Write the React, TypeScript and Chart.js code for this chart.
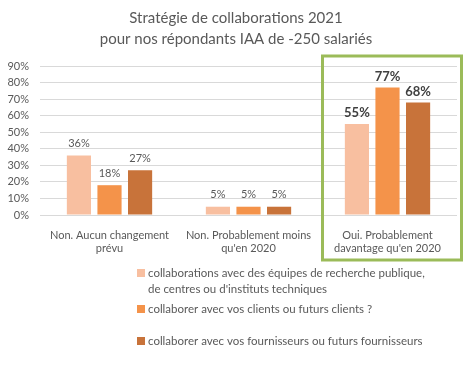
import React, { useEffect, useRef } from "react";
import { Chart, registerables } from "chart.js";

Chart.register(...registerables);

const titleLines = ["Stratégie de collaborations 2021", "pour nos répondants IAA de -250 salariés"];
const categories = [
  ["Non. Aucun changement", "prévu"],
  ["Non. Probablement moins", "qu'en 2020"],
  ["Oui. Probablement", "davantage qu'en 2020"],
];
const seriesNames = [
  ["collaborations avec des équipes de recherche publique,", "de centres ou d'instituts techniques"],
  ["collaborer avec vos clients ou futurs clients ?"],
  ["collaborer avec vos fournisseurs ou futurs fournisseurs"],
];
const recherche = [36, 5, 55];
const clients = [18, 5, 77];
const fournisseurs = [27, 5, 68];
const colors = ["#F8BFA0", "#F4934A", "#C8733A"];
const highlightIndex = 2;

const FONT = "Lato, 'Open Sans', sans-serif";
const GRAY = "#595959";

const decorPlugin = {
  id: "decor",
  afterDatasetsDraw(chart: any) {
    const ctx = chart.ctx;
    const xScale = chart.scales.x;
    ctx.save();
    // title
    ctx.fillStyle = GRAY;
    ctx.font = `15px ${FONT}`;
    ctx.textAlign = "center";
    ctx.textBaseline = "middle";
    ctx.fillText(titleLines[0], 236, 18);
    ctx.fillText(titleLines[1], 236, 39);

    // data labels
    chart.data.datasets.forEach((ds: any, di: number) => {
      const meta = chart.getDatasetMeta(di);
      meta.data.forEach((bar: any, i: number) => {
        const hi = i === highlightIndex;
        ctx.font = hi ? `bold 13px ${FONT}` : `11px ${FONT}`;
        ctx.fillStyle = hi ? "#404040" : GRAY;
        ctx.textAlign = "center";
        ctx.textBaseline = "middle";
        ctx.fillText(ds.data[i] + "%", bar.x, bar.y - (hi ? 11 : 12));
      });
    });

    // highlight box
    const cx = xScale.getPixelForValue(highlightIndex);
    ctx.strokeStyle = "#9BBB59";
    ctx.lineWidth = 3;
    ctx.strokeRect(cx - 65, 56, 139, 204);

    // legend
    ctx.textAlign = "left";
    ctx.textBaseline = "middle";
    ctx.font = `11.5px ${FONT}`;
    const rows = [273, 309, 341];
    seriesNames.forEach((lines, k) => {
      const y = rows[k];
      ctx.fillStyle = colors[k];
      ctx.fillRect(137, y - 4, 8, 8);
      ctx.fillStyle = GRAY;
      lines.forEach((t, j) => ctx.fillText(t, 148, y + j * 16));
    });
    ctx.restore();
  },
};

export default function App() {
  const ref = useRef<HTMLCanvasElement>(null);
  useEffect(() => {
    if (!ref.current) return;
    const chart = new Chart(ref.current, {
      type: "bar",
      data: {
        labels: categories,
        datasets: [
          { label: seriesNames[0].join(" "), data: recherche, backgroundColor: colors[0] },
          { label: seriesNames[1].join(" "), data: clients, backgroundColor: colors[1] },
          { label: seriesNames[2].join(" "), data: fournisseurs, backgroundColor: colors[2] },
        ],
      },
      options: {
        responsive: false,
        animation: false,
        layout: { padding: { top: 66, left: 0, right: 16, bottom: 112 } },
        plugins: { legend: { display: false }, title: { display: false }, tooltip: { enabled: false } },
        datasets: { bar: { categoryPercentage: 0.66, barPercentage: 0.79 } },
        scales: {
          x: {
            grid: { display: false },
            border: { display: false },
            ticks: { color: GRAY, font: { family: FONT, size: 11 }, padding: 6, maxRotation: 0 },
            afterFit: (s: any) => { s.height = 40; },
          },
          y: {
            min: 0,
            max: 90,
            ticks: { stepSize: 10, color: GRAY, font: { family: FONT, size: 11 }, padding: 11, callback: (v: any) => v + "%" },
            grid: { color: "#D9D9D9", drawTicks: false },
            border: { display: false },
            afterFit: (s: any) => { s.width = 40; },
          },
        },
      },
      plugins: [decorPlugin],
    });
    return () => chart.destroy();
  }, []);
  return (
    <div style={{ position: "absolute", left: 0, top: 0, width: 473, height: 367, background: "#fff" }}>
      <canvas ref={ref} width={473} height={367} />
    </div>
  );
}
